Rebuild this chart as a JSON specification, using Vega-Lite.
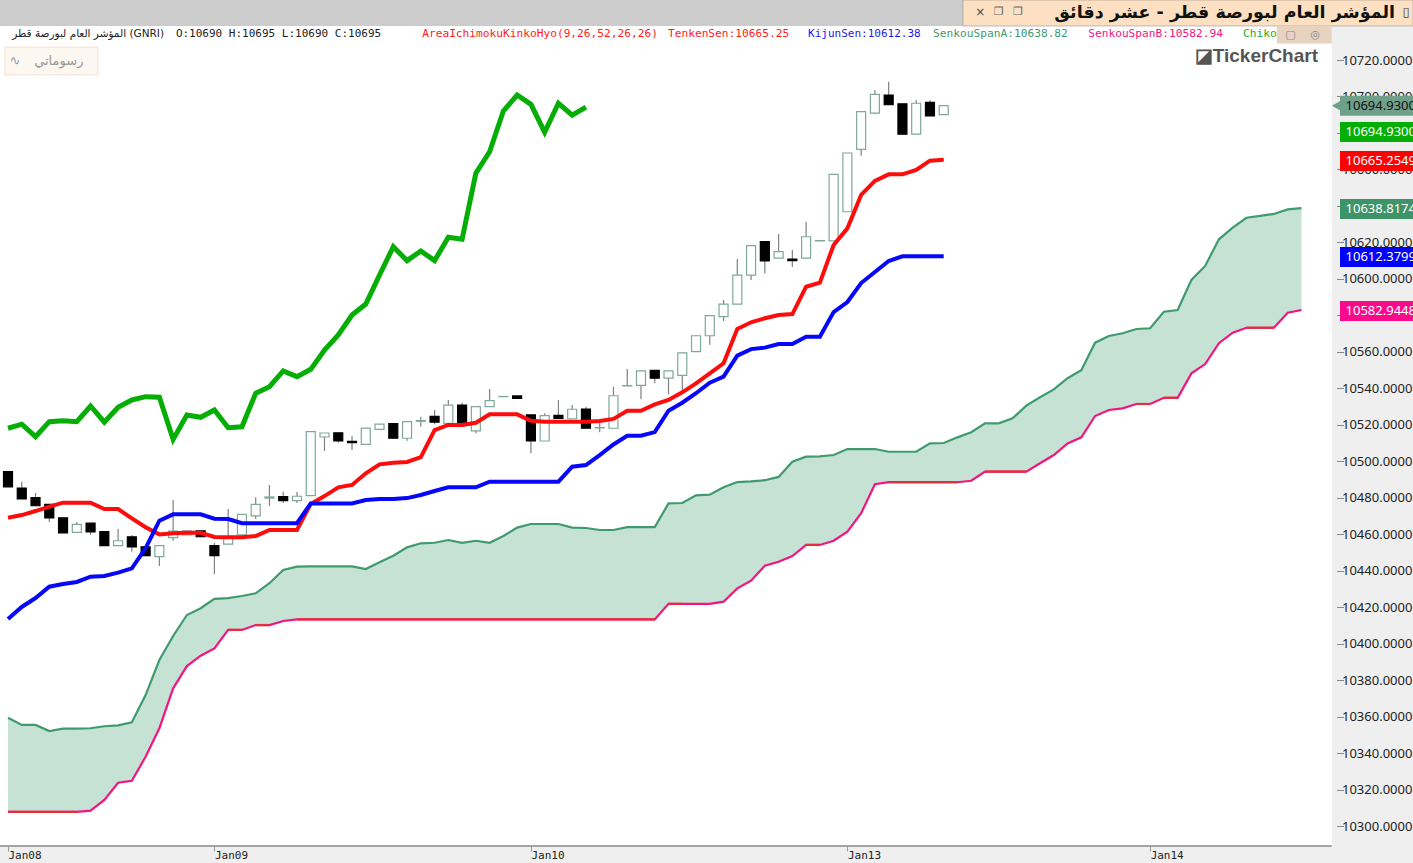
{"$schema":"https://vega.github.io/schema/vega-lite/v6.json","width":1413,"height":863,"padding":0,"autosize":{"type":"none"},"background":"#efefef","config":{"view":{"stroke":null}},"data":{"values":[{}]},
"datasets":{
"candles":[
{"i":0,"o":10494.3,"h":10494.3,"l":10486.0,"c":10486.0,"t":10469.0,"k":10413.5},
{"i":1,"o":10485.3,"h":10488.8,"l":10479.3,"c":10479.3,"t":10470.5,"k":10420.1},
{"i":2,"o":10480.0,"h":10482.6,"l":10475.6,"c":10475.6,"t":10472.7,"k":10425.0},
{"i":3,"o":10476.4,"h":10476.4,"l":10466.7,"c":10468.9,"t":10475.1,"k":10431.2},
{"i":4,"o":10469.0,"h":10469.0,"l":10460.7,"c":10460.7,"t":10477.3,"k":10432.7},
{"i":5,"o":10461.0,"h":10466.7,"l":10460.7,"c":10465.4,"t":10477.3,"k":10433.8},
{"i":6,"o":10466.1,"h":10466.1,"l":10459.6,"c":10461.2,"t":10477.3,"k":10436.7},
{"i":7,"o":10461.4,"h":10461.4,"l":10453.7,"c":10453.7,"t":10473.8,"k":10437.1},
{"i":8,"o":10453.7,"h":10462.9,"l":10453.7,"c":10456.4,"t":10473.8,"k":10438.9},
{"i":9,"o":10458.6,"h":10459.6,"l":10450.4,"c":10453.0,"t":10468.7,"k":10441.3},
{"i":10,"o":10453.1,"h":10453.1,"l":10448.2,"c":10448.2,"t":10463.8,"k":10452.3},
{"i":11,"o":10447.7,"h":10453.7,"l":10442.6,"c":10453.7,"t":10459.9,"k":10467.4},
{"i":12,"o":10458.1,"h":10478.7,"l":10456.4,"c":10461.7,"t":10460.5,"k":10470.9},
{"i":13,"o":10459.6,"h":10461.9,"l":10459.6,"c":10461.9,"t":10460.8,"k":10470.9},
{"i":14,"o":10461.9,"h":10461.9,"l":10458.6,"c":10458.6,"t":10460.8,"k":10470.9},
{"i":15,"o":10453.7,"h":10455.2,"l":10438.2,"c":10448.2,"t":10458.5,"k":10468.5},
{"i":16,"o":10454.6,"h":10473.8,"l":10454.6,"c":10458.6,"t":10458.3,"k":10468.3},
{"i":17,"o":10459.6,"h":10470.9,"l":10459.6,"c":10470.9,"t":10458.3,"k":10466.0},
{"i":18,"o":10470.1,"h":10480.2,"l":10468.3,"c":10476.4,"t":10459.0,"k":10466.0},
{"i":19,"o":10479.8,"h":10487.0,"l":10475.5,"c":10480.4,"t":10462.3,"k":10466.0},
{"i":20,"o":10480.6,"h":10483.3,"l":10477.1,"c":10478.4,"t":10462.3,"k":10466.0},
{"i":21,"o":10478.4,"h":10483.1,"l":10477.1,"c":10480.8,"t":10462.3,"k":10466.0},
{"i":22,"o":10481.1,"h":10516.2,"l":10481.1,"c":10516.2,"t":10476.6,"k":10476.9},
{"i":23,"o":10513.3,"h":10515.5,"l":10505.6,"c":10515.5,"t":10480.9,"k":10476.9},
{"i":24,"o":10515.6,"h":10515.6,"l":10510.2,"c":10511.1,"t":10485.7,"k":10476.9},
{"i":25,"o":10510.9,"h":10513.8,"l":10506.2,"c":10510.2,"t":10487.0,"k":10476.9},
{"i":26,"o":10509.3,"h":10518.2,"l":10509.3,"c":10518.2,"t":10493.4,"k":10478.7},
{"i":27,"o":10517.5,"h":10520.3,"l":10517.5,"c":10520.3,"t":10498.3,"k":10479.3},
{"i":28,"o":10520.6,"h":10520.6,"l":10512.6,"c":10512.6,"t":10499.2,"k":10479.3},
{"i":29,"o":10512.6,"h":10521.7,"l":10511.3,"c":10521.7,"t":10499.6,"k":10479.8},
{"i":30,"o":10521.9,"h":10524.4,"l":10518.9,"c":10522.3,"t":10502.2,"k":10481.5},
{"i":31,"o":10524.6,"h":10528.1,"l":10520.3,"c":10521.4,"t":10517.1,"k":10483.7},
{"i":32,"o":10520.8,"h":10533.6,"l":10520.8,"c":10530.8,"t":10519.9,"k":10485.7},
{"i":33,"o":10530.8,"h":10532.1,"l":10520.8,"c":10520.8,"t":10519.9,"k":10485.7},
{"i":34,"o":10516.7,"h":10529.9,"l":10515.3,"c":10529.9,"t":10521.1,"k":10485.7},
{"i":35,"o":10529.9,"h":10539.6,"l":10529.9,"c":10533.2,"t":10525.7,"k":10488.8},
{"i":36,"o":10535.4,"h":10535.5,"l":10535.4,"c":10535.5,"t":10525.7,"k":10488.8},
{"i":37,"o":10535.8,"h":10535.8,"l":10534.5,"c":10534.5,"t":10525.7,"k":10488.8},
{"i":38,"o":10525.4,"h":10525.4,"l":10504.4,"c":10511.1,"t":10522.2,"k":10488.8},
{"i":39,"o":10511.1,"h":10526.3,"l":10511.1,"c":10525.0,"t":10521.7,"k":10488.8},
{"i":40,"o":10525.2,"h":10533.6,"l":10523.5,"c":10523.5,"t":10521.7,"k":10488.8},
{"i":41,"o":10523.3,"h":10530.8,"l":10523.3,"c":10528.5,"t":10521.7,"k":10497.0},
{"i":42,"o":10528.6,"h":10529.9,"l":10518.1,"c":10518.1,"t":10521.7,"k":10497.9},
{"i":43,"o":10518.3,"h":10521.7,"l":10515.9,"c":10518.5,"t":10522.1,"k":10503.4},
{"i":44,"o":10518.1,"h":10540.9,"l":10518.1,"c":10535.9,"t":10523.2,"k":10509.2},
{"i":45,"o":10541.3,"h":10550.6,"l":10541.3,"c":10541.5,"t":10527.7,"k":10514.0},
{"i":46,"o":10541.6,"h":10549.6,"l":10534.0,"c":10549.6,"t":10527.7,"k":10514.0},
{"i":47,"o":10549.9,"h":10549.9,"l":10542.7,"c":10545.5,"t":10531.2,"k":10516.0},
{"i":48,"o":10545.6,"h":10549.6,"l":10536.7,"c":10549.6,"t":10533.6,"k":10527.7},
{"i":49,"o":10547.1,"h":10559.4,"l":10539.1,"c":10559.4,"t":10537.8,"k":10532.1},
{"i":50,"o":10560.1,"h":10568.8,"l":10560.1,"c":10568.8,"t":10542.7,"k":10537.3},
{"i":51,"o":10568.8,"h":10579.8,"l":10563.9,"c":10579.8,"t":10548.2,"k":10543.1},
{"i":52,"o":10579.3,"h":10588.4,"l":10576.9,"c":10586.1,"t":10553.7,"k":10546.4},
{"i":53,"o":10586.1,"h":10610.9,"l":10586.1,"c":10602.0,"t":10572.5,"k":10557.9},
{"i":54,"o":10602.0,"h":10618.2,"l":10599.4,"c":10618.2,"t":10576.2,"k":10561.5},
{"i":55,"o":10620.4,"h":10620.4,"l":10603.0,"c":10609.8,"t":10578.4,"k":10562.3},
{"i":56,"o":10611.4,"h":10624.6,"l":10611.4,"c":10614.9,"t":10580.2,"k":10564.3},
{"i":57,"o":10610.9,"h":10615.8,"l":10606.5,"c":10610.0,"t":10580.7,"k":10564.3},
{"i":58,"o":10611.4,"h":10631.3,"l":10611.4,"c":10623.1,"t":10595.7,"k":10568.3},
{"i":59,"o":10620.8,"h":10621.0,"l":10620.8,"c":10621.0,"t":10597.9,"k":10568.3},
{"i":60,"o":10620.8,"h":10657.3,"l":10620.8,"c":10657.3,"t":10618.6,"k":10581.8},
{"i":61,"o":10636.8,"h":10669.0,"l":10636.8,"c":10669.0,"t":10627.7,"k":10587.3},
{"i":62,"o":10671.0,"h":10691.7,"l":10667.5,"c":10691.7,"t":10646.0,"k":10597.7},
{"i":63,"o":10690.9,"h":10703.6,"l":10690.2,"c":10701.2,"t":10653.7,"k":10603.8},
{"i":64,"o":10700.8,"h":10708.1,"l":10695.5,"c":10695.5,"t":10657.3,"k":10609.8},
{"i":65,"o":10696.0,"h":10696.0,"l":10679.3,"c":10679.3,"t":10657.3,"k":10612.38},
{"i":66,"o":10679.4,"h":10698.1,"l":10679.4,"c":10696.3,"t":10659.7,"k":10612.38},
{"i":67,"o":10696.8,"h":10698.1,"l":10689.3,"c":10689.3,"t":10664.8,"k":10612.38},
{"i":68,"o":10690,"h":10695,"l":10690,"c":10695,"t":10665.25,"k":10612.38}],
"chikou":[
{"i":0,"v":10518.1},{"i":1,"v":10520.3},{"i":2,"v":10513.5},{"i":3,"v":10521.7},{"i":4,"v":10522.2},{"i":5,"v":10521.7},{"i":6,"v":10530.3},{"i":7,"v":10521.4},{"i":8,"v":10529.6},{"i":9,"v":10533.6},{"i":10,"v":10535.4},{"i":11,"v":10535.1},{"i":12,"v":10512.0},{"i":13,"v":10525.4},{"i":14,"v":10524.1},{"i":15,"v":10528.1},{"i":16,"v":10518.4},{"i":17,"v":10518.9},{"i":18,"v":10537.3},{"i":19,"v":10540.9},{"i":20,"v":10549.5},{"i":21,"v":10546.4},{"i":22,"v":10550.4},{"i":23,"v":10561.0},{"i":24,"v":10569.2},{"i":25,"v":10580.2},{"i":26,"v":10586.2},{"i":27,"v":10602.1},{"i":28,"v":10617.6},{"i":29,"v":10610.0},{"i":30,"v":10615.3},{"i":31,"v":10610.0},{"i":32,"v":10622.8},{"i":33,"v":10621.7},{"i":34,"v":10657.9},{"i":35,"v":10669.7},{"i":36,"v":10692.0},{"i":37,"v":10700.8},{"i":38,"v":10695.7},{"i":39,"v":10680.4},{"i":40,"v":10696.3},{"i":41,"v":10689.8},{"i":42,"v":10694.2}],
"cloud":[
{"i":0,"a":10359.4,"b":10307.8,"f":1},{"i":1,"a":10355.4,"b":10307.8,"f":1},{"i":2,"a":10355.4,"b":10307.8,"f":1},{"i":3,"a":10352.1,"b":10307.8,"f":1},{"i":4,"a":10353.4,"b":10307.8,"f":1},{"i":5,"a":10353.4,"b":10307.8,"f":1},{"i":6,"a":10353.6,"b":10308.4},{"i":7,"a":10354.7,"b":10314.3},{"i":8,"a":10355.2,"b":10323.7},{"i":9,"a":10356.9,"b":10324.8},{"i":10,"a":10371.8,"b":10338.0},{"i":11,"a":10391.0,"b":10353.6},{"i":12,"a":10404.2,"b":10375.5},{"i":13,"a":10415.7,"b":10387.7},{"i":14,"a":10419.4,"b":10393.4},{"i":15,"a":10424.5,"b":10397.4},{"i":16,"a":10425.0,"b":10407.5,"f":2},{"i":17,"a":10426.1,"b":10407.5,"f":2},{"i":18,"a":10427.6,"b":10410.2,"f":3},{"i":19,"a":10433.1,"b":10410.2,"f":3},{"i":20,"a":10440.4,"b":10412.4},{"i":21,"a":10442.2,"b":10413.3,"f":4},{"i":22,"a":10442.4,"b":10413.3,"f":4},{"i":23,"a":10442.4,"b":10413.3,"f":4},{"i":24,"a":10442.4,"b":10413.3,"f":4},{"i":25,"a":10442.4,"b":10413.3,"f":4},{"i":26,"a":10440.9,"b":10413.3,"f":4},{"i":27,"a":10444.6,"b":10413.3,"f":4},{"i":28,"a":10448.2,"b":10413.3,"f":4},{"i":29,"a":10452.8,"b":10413.3,"f":4},{"i":30,"a":10455.0,"b":10413.3,"f":4},{"i":31,"a":10455.3,"b":10413.3,"f":4},{"i":32,"a":10456.8,"b":10413.3,"f":4},{"i":33,"a":10455.3,"b":10413.3,"f":4},{"i":34,"a":10456.4,"b":10413.3,"f":4},{"i":35,"a":10455.3,"b":10413.3,"f":4},{"i":36,"a":10459.0,"b":10413.3,"f":4},{"i":37,"a":10463.6,"b":10413.3,"f":4},{"i":38,"a":10465.6,"b":10413.3,"f":4},{"i":39,"a":10465.6,"b":10413.3,"f":4},{"i":40,"a":10465.6,"b":10413.3,"f":4},{"i":41,"a":10463.6,"b":10413.3,"f":4},{"i":42,"a":10463.4,"b":10413.3,"f":4},{"i":43,"a":10462.3,"b":10413.3,"f":4},{"i":44,"a":10462.3,"b":10413.3,"f":4},{"i":45,"a":10463.9,"b":10413.3,"f":4},{"i":46,"a":10463.9,"b":10413.3,"f":4},{"i":47,"a":10463.9,"b":10413.3,"f":4},{"i":48,"a":10476.9,"b":10421.8,"f":5},{"i":49,"a":10477.1,"b":10421.8,"f":5},{"i":50,"a":10481.3,"b":10421.8},{"i":51,"a":10481.7,"b":10421.8},{"i":52,"a":10485.7,"b":10423.0},{"i":53,"a":10488.6,"b":10430.3},{"i":54,"a":10489.0,"b":10434.5},{"i":55,"a":10489.6,"b":10442.7},{"i":56,"a":10491.4,"b":10444.9},{"i":57,"a":10499.7,"b":10448.0},{"i":58,"a":10502.5,"b":10454.1,"f":7},{"i":59,"a":10502.7,"b":10454.1,"f":7},{"i":60,"a":10503.4,"b":10456.4},{"i":61,"a":10506.7,"b":10461.4},{"i":62,"a":10506.7,"b":10471.5},{"i":63,"a":10506.7,"b":10487.4},{"i":64,"a":10505.2,"b":10488.5,"f":8},{"i":65,"a":10505.2,"b":10488.5,"f":8},{"i":66,"a":10505.2,"b":10488.5,"f":8},{"i":67,"a":10509.8,"b":10488.5,"f":8},{"i":68,"a":10510.0,"b":10488.5,"f":8},{"i":69,"a":10513.1,"b":10488.5,"f":8},{"i":70,"a":10515.9,"b":10489.3},{"i":71,"a":10520.8,"b":10494.3,"f":9},{"i":72,"a":10520.8,"b":10494.3,"f":9},{"i":73,"a":10523.5,"b":10494.3,"f":9},{"i":74,"a":10530.5,"b":10494.3,"f":9},{"i":75,"a":10535.1,"b":10498.9},{"i":76,"a":10539.4,"b":10503.4},{"i":77,"a":10545.5,"b":10509.8},{"i":78,"a":10549.9,"b":10513.1},{"i":79,"a":10565.0,"b":10524.8},{"i":80,"a":10568.7,"b":10528.1},{"i":81,"a":10570.2,"b":10529.0},{"i":82,"a":10572.5,"b":10531.4,"f":11},{"i":83,"a":10572.9,"b":10531.4,"f":11},{"i":84,"a":10582.0,"b":10534.8,"f":12},{"i":85,"a":10582.9,"b":10534.8,"f":12},{"i":86,"a":10599.4,"b":10548.2},{"i":87,"a":10607.1,"b":10553.3},{"i":88,"a":10621.7,"b":10564.7},{"i":89,"a":10628.1,"b":10570.5},{"i":90,"a":10633.5,"b":10573.2,"f":10},{"i":91,"a":10634.5,"b":10573.2,"f":10},{"i":92,"a":10635.6,"b":10573.2,"f":10},{"i":93,"a":10638.1,"b":10581.4},{"i":94,"a":10638.82,"b":10582.94}],
"tags":[
{"name":"Close","price":10694.93,"pos":10694.93},
{"name":"Chikou","price":10694.93,"pos":10680.5},
{"name":"Tenkan","price":10665.2549,"pos":10664.6},
{"name":"SpanA","price":10638.8174,"pos":10638.3},
{"name":"Kijun","price":10612.3799,"pos":10612.0},
{"name":"SpanB","price":10582.9448,"pos":10582.4}]
},
"layer":[
{"mark":{"type":"rect","color":"#ffffff"},"encoding":{
"x":{"datum":-0.581,"type":"quantitative","scale":{"domain":[-0.218,101.74],"nice":false,"zero":false},"axis":{"title":null,"orient":"bottom","offset":-12,"domain":false,"grid":false,"values":[0,15,38,61,83],"labelExpr":"datum.value==0?'Jan08':datum.value==15?'Jan09':datum.value==38?'Jan10':datum.value==61?'Jan13':'Jan14'","tickSize":-5,"tickColor":"#999999","labelAlign":"left","labelBaseline":"middle","labelPadding":9,"labelFont":"DejaVu Sans Mono","labelFontSize":11,"labelColor":"#222222","labelOverlap":false,"labelFlush":false,"zindex":1}},
"x2":{"datum":96.2},
"y":{"datum":10738.64,"type":"quantitative","scale":{"domain":[10282.46,10750.16],"nice":false,"zero":false},"axis":{"title":null,"orient":"right","offset":-76.5,"domain":false,"grid":false,"values":[10300,10320,10340,10360,10380,10400,10420,10440,10460,10480,10500,10520,10540,10560,10580,10600,10620,10640,10660,10680,10700,10720],"format":".4f","tickSize":7,"tickColor":"#888888","labelPadding":-2,"labelFont":"Noto Sans","labelFontSize":13,"labelColor":"#222222","labelOverlap":false,"labelFlush":false,"zindex":0}},
"y2":{"datum":10289.0}}},
{"data":{"name":"cloud"},"mark":{"type":"area","color":"#c6e2d4"},"encoding":{"x":{"field":"i","type":"quantitative"},"y":{"field":"a","type":"quantitative"},"y2":{"field":"b"}}},
{"data":{"name":"cloud"},"mark":{"type":"line","color":"#3f9a70","strokeWidth":2.2},"encoding":{"x":{"field":"i","type":"quantitative"},"y":{"field":"a","type":"quantitative"}}},
{"data":{"name":"cloud"},"mark":{"type":"line","color":"#f5147f","strokeWidth":2.2},"encoding":{"x":{"field":"i","type":"quantitative"},"y":{"field":"b","type":"quantitative"}}},
{"data":{"name":"cloud"},"transform":[{"filter":"isValid(datum.f)"}],"mark":{"type":"line","color":"#e0303a","strokeWidth":2.2},"encoding":{"x":{"field":"i","type":"quantitative"},"y":{"field":"b","type":"quantitative"},"detail":{"field":"f"}}},
{"data":{"name":"candles"},"mark":{"type":"rule","color":"#808080","strokeWidth":1.2},"encoding":{"x":{"field":"i","type":"quantitative"},"y":{"field":"l","type":"quantitative"},"y2":{"field":"h"}}},
{"data":{"name":"candles"},"mark":{"type":"bar","size":9,"strokeWidth":1.2},"encoding":{"x":{"field":"i","type":"quantitative"},"y":{"field":"o","type":"quantitative"},"y2":{"field":"c"},"fill":{"condition":{"test":"datum.c>=datum.o","value":"#ffffff"},"value":"#000000"},"stroke":{"condition":{"test":"datum.c>=datum.o","value":"#7fa898"},"value":"#000000"}}},
{"data":{"name":"candles"},"mark":{"type":"line","color":"#fe0c0c","strokeWidth":4},"encoding":{"x":{"field":"i","type":"quantitative"},"y":{"field":"t","type":"quantitative"}}},
{"data":{"name":"candles"},"mark":{"type":"line","color":"#0606fa","strokeWidth":4},"encoding":{"x":{"field":"i","type":"quantitative"},"y":{"field":"k","type":"quantitative"}}},
{"data":{"name":"chikou"},"mark":{"type":"line","color":"#04ae04","strokeWidth":5},"encoding":{"x":{"field":"i","type":"quantitative"},"y":{"field":"v","type":"quantitative"}}},
{"mark":{"type":"rect","color":"#cccccc"},"encoding":{"x":{"datum":-0.581,"type":"quantitative"},"x2":{"datum":69.4},"y":{"datum":10752.9,"type":"quantitative"},"y2":{"datum":10738.64}}},
{"mark":{"type":"rect","color":"#fde0c2","stroke":"#8a8078","strokeWidth":0.5},"encoding":{"x":{"datum":69.4,"type":"quantitative"},"x2":{"datum":102.11},"y":{"datum":10752.9,"type":"quantitative"},"y2":{"datum":10738.64}}},
{"mark":{"type":"rect","color":"#e6d3c0"},"encoding":{"x":{"datum":92.2,"type":"quantitative"},"x2":{"datum":96.2},"y":{"datum":10738.64,"type":"quantitative"},"y2":{"datum":10729.0}}},
{"mark":{"type":"rect","color":"#fdf7f2","stroke":"#f2dfcf","strokeWidth":1},"encoding":{"x":{"datum":-0.22,"type":"quantitative"},"x2":{"datum":6.54},"y":{"datum":10727.1,"type":"quantitative"},"y2":{"datum":10711.8}}},
{"mark":{"type":"text","align":"right","baseline":"middle","font":"DejaVu Sans","fontWeight":"bold","fontSize":17.5,"color":"#111111"},"encoding":{"x":{"datum":100.8,"type":"quantitative"},"y":{"datum":10745.9,"type":"quantitative"},"text":{"value":"المؤشر العام لبورصة قطر - عشر دقائق"}}},
{"mark":{"type":"text","align":"center","baseline":"middle","font":"DejaVu Sans","fontSize":12,"color":"#444444"},"encoding":{"x":{"datum":70.65,"type":"quantitative"},"y":{"datum":10746.3,"type":"quantitative"},"text":{"value":"×"}}},
{"mark":{"type":"text","align":"center","baseline":"middle","font":"DejaVu Sans","fontSize":11,"color":"#666666"},"encoding":{"x":{"datum":72.0,"type":"quantitative"},"y":{"datum":10746.3,"type":"quantitative"},"text":{"value":"❐"}}},
{"mark":{"type":"text","align":"center","baseline":"middle","font":"DejaVu Sans","fontSize":11,"color":"#666666"},"encoding":{"x":{"datum":73.4,"type":"quantitative"},"y":{"datum":10746.3,"type":"quantitative"},"text":{"value":"❐"}}},
{"mark":{"type":"text","align":"center","baseline":"middle","font":"DejaVu Sans","fontSize":13,"color":"#444444"},"encoding":{"x":{"datum":101.6,"type":"quantitative"},"y":{"datum":10746.3,"type":"quantitative"},"text":{"value":"▯"}}},
{"mark":{"type":"text","align":"center","baseline":"middle","font":"DejaVu Sans","fontSize":11,"color":"#888888"},"encoding":{"x":{"datum":93.2,"type":"quantitative"},"y":{"datum":10733.9,"type":"quantitative"},"text":{"value":"▢"}}},
{"mark":{"type":"text","align":"center","baseline":"middle","font":"DejaVu Sans","fontSize":11,"color":"#888888"},"encoding":{"x":{"datum":95.0,"type":"quantitative"},"y":{"datum":10733.9,"type":"quantitative"},"text":{"value":"◎"}}},
{"mark":{"type":"text","align":"left","baseline":"middle","font":"DejaVu Sans","fontSize":10.5,"color":"#222222"},"encoding":{"x":{"datum":0.3,"type":"quantitative"},"y":{"datum":10734.0,"type":"quantitative"},"text":{"value":"المؤشر العام لبورصة قطر (GNRI)"}}},
{"mark":{"type":"text","align":"left","baseline":"middle","font":"DejaVu Sans Mono","fontSize":11,"color":"#222222"},"encoding":{"x":{"datum":12.2,"type":"quantitative"},"y":{"datum":10734.0,"type":"quantitative"},"text":{"value":"O:10690  H:10695  L:10690  C:10695"}}},
{"mark":{"type":"text","align":"left","baseline":"middle","font":"DejaVu Sans Mono","fontSize":11.2,"color":"#ff1a1a"},"encoding":{"x":{"datum":30.1,"type":"quantitative"},"y":{"datum":10734.0,"type":"quantitative"},"text":{"value":"AreaIchimokuKinkoHyo(9,26,52,26,26)"}}},
{"mark":{"type":"text","align":"left","baseline":"middle","font":"DejaVu Sans Mono","fontSize":11.2,"color":"#ff1a1a"},"encoding":{"x":{"datum":47.96,"type":"quantitative"},"y":{"datum":10734.0,"type":"quantitative"},"text":{"value":"TenkenSen:10665.25"}}},
{"mark":{"type":"text","align":"left","baseline":"middle","font":"DejaVu Sans Mono","fontSize":11,"color":"#1a1aee"},"encoding":{"x":{"datum":58.14,"type":"quantitative"},"y":{"datum":10734.0,"type":"quantitative"},"text":{"value":"KijunSen:10612.38"}}},
{"mark":{"type":"text","align":"left","baseline":"middle","font":"DejaVu Sans Mono","fontSize":11.2,"color":"#3f9a70"},"encoding":{"x":{"datum":67.23,"type":"quantitative"},"y":{"datum":10734.0,"type":"quantitative"},"text":{"value":"SenkouSpanA:10638.82"}}},
{"mark":{"type":"text","align":"left","baseline":"middle","font":"DejaVu Sans Mono","fontSize":11.2,"color":"#f5147f"},"encoding":{"x":{"datum":78.5,"type":"quantitative"},"y":{"datum":10734.0,"type":"quantitative"},"text":{"value":"SenkouSpanB:10582.94"}}},
{"mark":{"type":"text","align":"left","baseline":"middle","font":"DejaVu Sans Mono","fontSize":11.2,"color":"#22b022"},"encoding":{"x":{"datum":89.75,"type":"quantitative"},"y":{"datum":10734.0,"type":"quantitative"},"text":{"value":"Chiko"}}},
{"mark":{"type":"text","align":"right","baseline":"middle","font":"Liberation Sans","fontWeight":"bold","fontSize":19,"color":"#555555"},"encoding":{"x":{"datum":95.2,"type":"quantitative"},"y":{"datum":10722.2,"type":"quantitative"},"text":{"value":"◪TickerChart"}}},
{"mark":{"type":"text","align":"left","baseline":"middle","font":"DejaVu Sans","fontSize":13,"color":"#999999"},"encoding":{"x":{"datum":1.9,"type":"quantitative"},"y":{"datum":10719.4,"type":"quantitative"},"text":{"value":"رسوماتي"}}},
{"mark":{"type":"text","align":"left","baseline":"middle","font":"DejaVu Sans","fontSize":13,"color":"#999999"},"encoding":{"x":{"datum":0.1,"type":"quantitative"},"y":{"datum":10719.4,"type":"quantitative"},"text":{"value":"∿"}}},
{"mark":{"type":"rule","color":"#888888","strokeWidth":1.5},"encoding":{"x":{"datum":-0.581,"type":"quantitative"},"x2":{"datum":96.2},"y":{"datum":10289.0,"type":"quantitative"}}},
{"data":{"name":"tags"},"transform":[{"filter":"datum.name=='Close'"}],"mark":{"type":"point","shape":"triangle-left","filled":true,"size":260,"color":"#6fa08a","opacity":1},"encoding":{"x":{"datum":96.72,"type":"quantitative"},"y":{"field":"pos","type":"quantitative"}}},
{"data":{"name":"tags"},"mark":{"type":"bar","orient":"horizontal","size":20},"encoding":{"x":{"datum":96.8,"type":"quantitative"},"x2":{"datum":102.11},"y":{"field":"pos","type":"quantitative"},"color":{"field":"name","type":"nominal","legend":null,"scale":{"domain":["Close","Chikou","Tenkan","SpanA","Kijun","SpanB"],"range":["#6fa08a","#05ae05","#ff0000","#3c9468","#0000ff","#fb0a8c"]}}}},
{"data":{"name":"tags"},"mark":{"type":"text","align":"left","baseline":"middle","font":"Noto Sans","fontSize":13},"encoding":{"x":{"datum":97.2,"type":"quantitative"},"y":{"field":"pos","type":"quantitative"},"text":{"field":"price","type":"quantitative","format":".4f"},"fill":{"condition":{"test":"datum.name=='Close'","value":"#111111"},"value":"#ffffff"}}}
]}
